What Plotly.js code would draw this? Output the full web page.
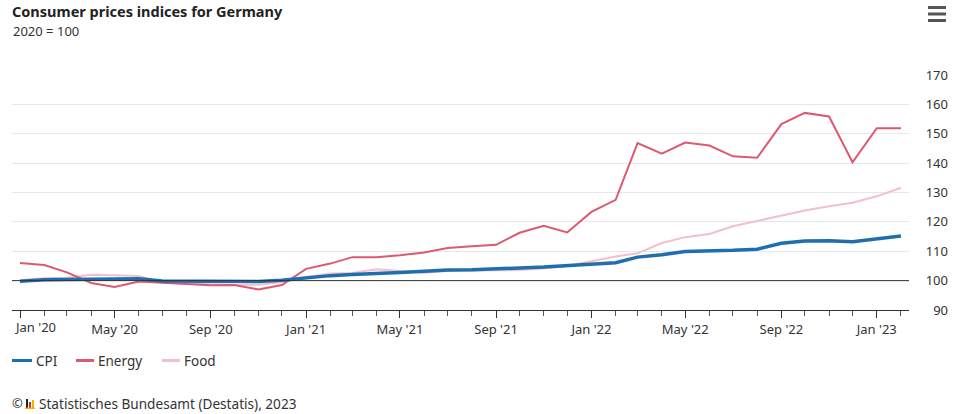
<!DOCTYPE html>
<html>
<head>
<meta charset="utf-8">
<script src="https://cdn.plot.ly/plotly-3.0.1.min.js"></script>
<style>
  html, body { margin: 0; padding: 0; background: #fff; }
  #chart { width: 960px; height: 414px; }
</style>
</head>
<body>
<div id="chart"></div>
<script>
// monthly index values, 2020 = 100, Jan 2020 .. Feb 2023
var months = [];
for (var y = 2020; y <= 2023; y++) {
  for (var m = 1; m <= 12; m++) {
    if (y == 2023 && m > 2) break;
    months.push(y + '-' + (m < 10 ? '0' + m : m) + '-01');
  }
}

var cpi = [
  99.8, 100.3, 100.4, 100.5, 100.5, 100.6, 99.9, 99.8, 99.7, 99.8, 99.7, 100.1,
  101.0, 101.7, 102.1, 102.6, 102.8, 103.2, 103.6, 103.7, 103.9, 104.3, 104.6, 105.0,
  105.4, 106.1, 108.0, 108.8, 109.9, 110.0, 110.3, 110.7, 112.7, 113.5, 113.6, 113.2,
  114.3, 115.2
];
var energy = [
  106.0, 105.3, 102.8, 99.2, 97.8, 99.7, 99.3, 98.8, 98.4, 98.5, 97.0, 98.5,
  104.0, 105.8, 108.0, 108.0, 108.6, 109.6, 111.1, 111.7, 112.2, 116.3, 118.7, 116.4,
  123.4, 127.5, 146.8, 143.2, 147.0, 146.0, 142.3, 141.8, 153.3, 157.1, 155.9, 140.3,
  151.9, 151.9
];
var food = [
  100.1, 100.8, 101.0, 102.0, 101.8, 101.6, 99.3, 99.0, 98.6, 98.5, 98.6, 99.5,
  101.2, 102.4, 102.6, 103.9, 103.3, 102.7, 103.3, 103.3, 103.5, 103.6, 104.1, 105.0,
  106.7, 108.2, 109.3, 112.8, 114.8, 115.9, 118.5, 120.3, 122.2, 123.9, 125.3, 126.5,
  128.7, 131.6
];

var names = ['CPI', 'Energy', 'Food'];
var colors = ['#1f6fae', '#dc5a70', '#f3bfcb'];
var widths = [3.5, 2, 2];

// labelled ticks every 4 months
var tickMonths = ['2020-01-01', '2020-05-01', '2020-09-01', '2021-01-01', '2021-05-01', '2021-09-01',
                  '2022-01-01', '2022-05-01', '2022-09-01', '2023-01-01'];
var tickLabels = ["Jan '20", "May '20", "Sep '20", "Jan '21", "May '21", "Sep '21",
                  "Jan '22", "May '22", "Sep '22", "Jan '23"];

var FONT = '"Noto Sans", "Open Sans", sans-serif';

// pixel -> paper helpers (plot area 12..948 x, 75..310 y)
function px(x) { return (x - 12) / 936; }
function py(y) { return (310 - y) / 235; }

var series = [cpi, energy, food];
var traces = [];
for (var i = series.length - 1; i >= 0; i--) {
  traces.push({x: months, y: series[i], name: names[i], type: 'scatter', mode: 'lines',
    line: {color: colors[i], width: widths[i]}, showlegend: false, hoverinfo: 'x+y+name'});
}

// the first label sits at the chart edge: drawn as a left-aligned note instead
var tickText = tickLabels.map(function (t, i) { return i == 0 ? '' : t; });

var shapes = [
  // reference line at the base value
  {type: 'line', xref: 'x domain', x0: 0, x1: 1, yref: 'y', y0: 100, y1: 100,
   line: {color: '#333', width: 1}}
];
// menu icon
[7.5, 14, 20.5].forEach(function (yy) {
  shapes.push({type: 'line', xref: 'paper', yref: 'paper', x0: px(928), x1: px(946), y0: py(yy), y1: py(yy),
    line: {color: '#555', width: 3}});
});
// small logo bars
shapes.push({type: 'rect', xref: 'paper', yref: 'paper', x0: px(26), x1: px(28), y0: py(408), y1: py(399), fillcolor: '#222', line: {width: 0}});
shapes.push({type: 'rect', xref: 'paper', yref: 'paper', x0: px(29), x1: px(31), y0: py(408), y1: py(402), fillcolor: '#d9263a', line: {width: 0}});
shapes.push({type: 'rect', xref: 'paper', yref: 'paper', x0: px(32), x1: px(34), y0: py(408), y1: py(400), fillcolor: '#f2b400', line: {width: 0}});
shapes.push({type: 'rect', xref: 'paper', yref: 'paper', x0: px(25), x1: px(35), y0: py(409), y1: py(407.5), fillcolor: '#f2b400', line: {width: 0}});

var annotations = [
  {text: '2020 = 100', xref: 'paper', yref: 'paper', x: px(12), y: py(31),
   xanchor: 'left', yanchor: 'middle', showarrow: false, borderpad: 0,
   font: {size: 13, color: '#333'}},
  {text: tickLabels[0], xref: 'paper', yref: 'paper', x: px(13), y: py(326.5),
   xanchor: 'left', yanchor: 'middle', showarrow: false, borderpad: 0,
   font: {size: 13, color: '#333'}},
  {text: '©', xref: 'paper', yref: 'paper', x: px(11), y: py(403),
   xanchor: 'left', yanchor: 'middle', showarrow: false, borderpad: 0,
   font: {size: 13, color: '#333'}},
  {text: 'Statistisches Bundesamt (Destatis), 2023', xref: 'paper', yref: 'paper', x: px(38), y: py(403),
   xanchor: 'left', yanchor: 'middle', showarrow: false, borderpad: 0,
   font: {size: 13.6, color: '#333'}}
];

// legend built from the series names and colours
var legendLine = [[12, 32], [76, 94], [162, 180]];
for (var k = 0; k < names.length; k++) {
  shapes.push({type: 'line', xref: 'paper', yref: 'paper',
    x0: px(legendLine[k][0]), x1: px(legendLine[k][1]), y0: py(360.5), y1: py(360.5),
    line: {color: colors[k], width: 3}});
  annotations.push({text: names[k], xref: 'paper', yref: 'paper',
    x: px(legendLine[k][1] + 3), y: py(360.5), xanchor: 'left', yanchor: 'middle',
    showarrow: false, borderpad: 0, font: {size: 13.5, color: '#333'}});
}

var layout = {
  width: 960,
  height: 414,
  margin: {l: 12, r: 12, t: 75, b: 104},
  paper_bgcolor: '#fff',
  plot_bgcolor: '#fff',
  font: {family: FONT, size: 13, color: '#333'},
  title: {
    text: '<b>Consumer prices indices for Germany</b>',
    font: {family: FONT, size: 14.5, color: '#222'},
    x: 12 / 960, xanchor: 'left', xref: 'container',
    y: 1 - 12 / 414, yanchor: 'middle', yref: 'container'
  },
  xaxis: {
    type: 'date',
    domain: [0, 897 / 936],
    range: ['2019-12-21 18:00', '2023-02-11 06:00'],
    tickmode: 'array',
    tickvals: tickMonths,
    ticktext: tickText,
    ticks: 'outside',
    ticklen: 7,
    tickcolor: '#333',
    showline: true,
    linecolor: '#333',
    linewidth: 1,
    showgrid: false,
    zeroline: false,
    tickfont: {size: 13, color: '#333'},
    minor: {dtick: 'M1', tick0: '2020-01-01', ticks: 'outside', ticklen: 5, tickcolor: '#555', showgrid: false}
  },
  yaxis: {
    range: [90, 170],
    dtick: 10,
    anchor: 'free',
    position: 1,
    side: 'left',
    showline: false,
    ticks: '',
    showgrid: true,
    gridcolor: '#e8e8e8',
    gridwidth: 1,
    zeroline: false,
    tickfont: {size: 13, color: '#333'}
  },
  showlegend: false,
  shapes: shapes,
  annotations: annotations
};

Plotly.newPlot('chart', traces, layout, {displayModeBar: false, responsive: false});
</script>
</body>
</html>
